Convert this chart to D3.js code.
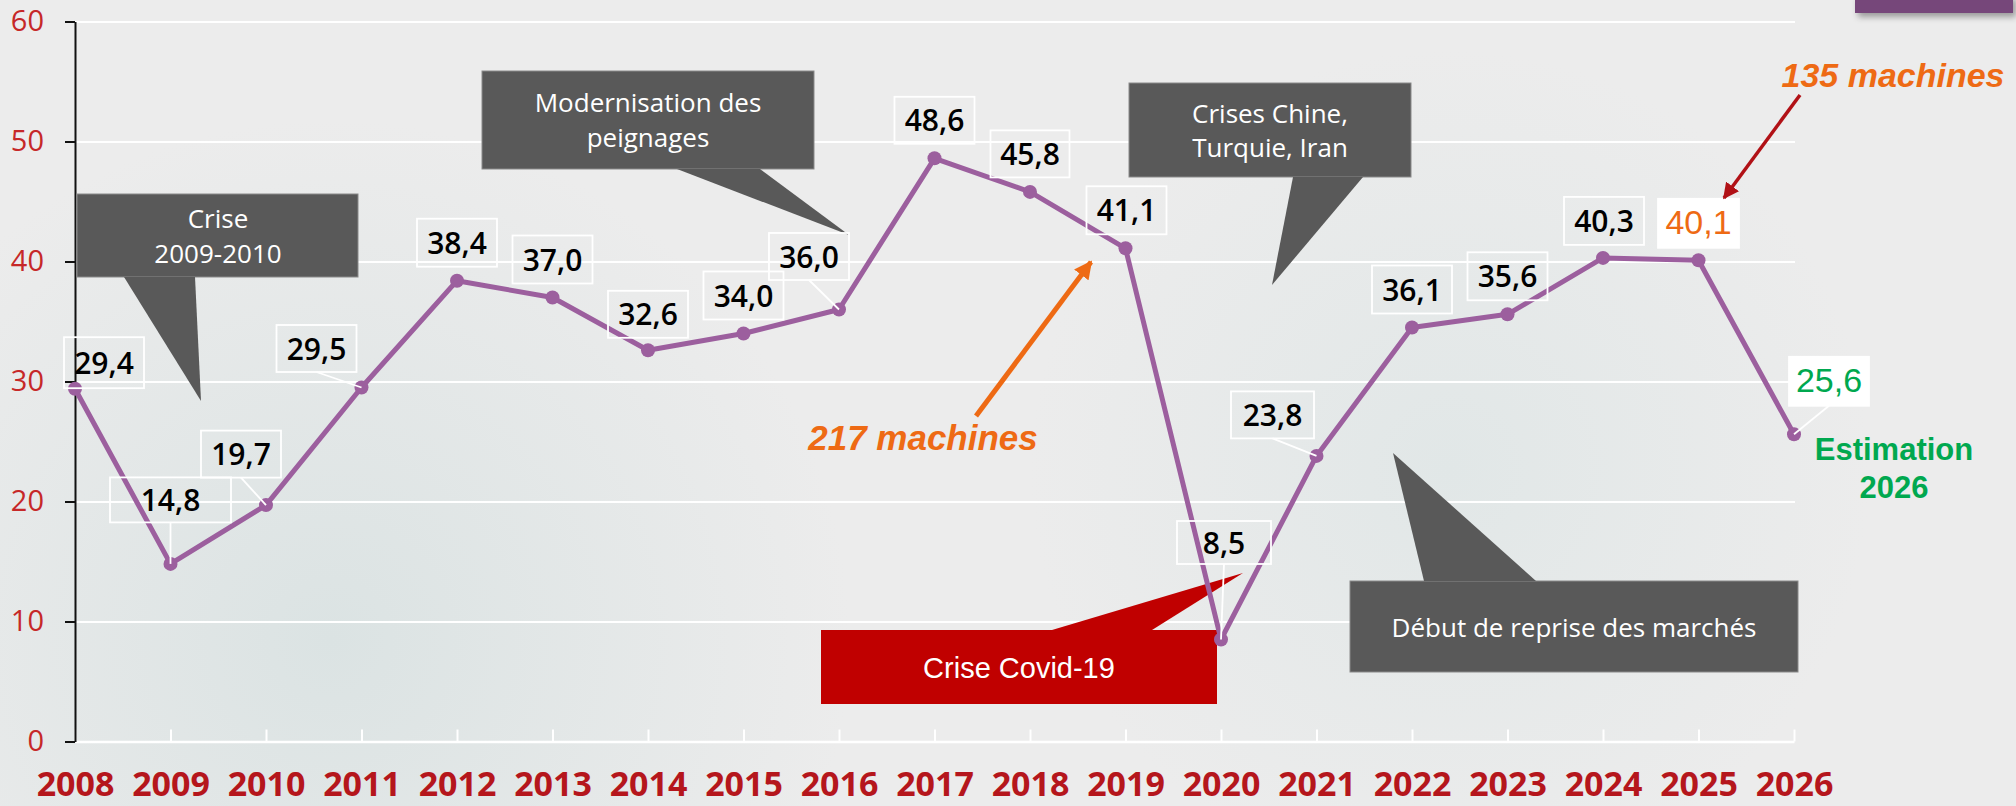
<!DOCTYPE html>
<html><head><meta charset="utf-8">
<script src="https://cdn.jsdelivr.net/npm/d3@7"></script>
<style>html,body{margin:0;padding:0;background:#ececec;overflow:hidden}</style>
</head><body><svg id="c" width="2016" height="806"></svg>
<script>
// ---- data ----
const years  = [2008,2009,2010,2011,2012,2013,2014,2015,2016,2017,2018,2019,2020,2021,2022,2023,2024,2025,2026];
const values = [29.4,14.8,19.7,29.5,38.4,37.0,32.6,34.0,36.0,48.6,45.8,41.1,8.5,23.8,34.5,35.6,40.3,40.1,25.6];
const labels = ["29,4","14,8","19,7","29,5","38,4","37,0","32,6","34,0","36,0","48,6","45,8","41,1","8,5","23,8","36,1","35,6","40,3","40,1","25,6"];
const yTicks = [0,10,20,30,40,50,60];

// ---- label layout (offsets from point, box size, style) ----
const labelLayout = [
  {dx:29,  dy:-26, w:80, h:51},
  {dx:0,   dy:-64, w:121,h:45, leader:true},
  {dx:-25, dy:-51, w:80, h:47, leader:true},
  {dx:-45, dy:-39, w:80, h:47, leader:true},
  {dx:0,   dy:-38, w:80, h:48},
  {dx:0,   dy:-38, w:80, h:48},
  {dx:0,   dy:-36, w:80, h:47},
  {dx:0,   dy:-38, w:80, h:48},
  {dx:-30, dy:-53, w:80, h:47, leader:true},
  {dx:0,   dy:-38, w:80, h:47},
  {dx:0,   dy:-38, w:79, h:47},
  {dx:1,   dy:-38, w:80, h:48},
  {dx:3,   dy:-97, w:94, h:43, leader:true},
  {dx:-44, dy:-41, w:83, h:47, leader:true},
  {dx:0,   dy:-38, w:80, h:48},
  {dx:0,   dy:-38, w:80, h:48},
  {dx:1,   dy:-37, w:80, h:48},
  {dx:0,   dy:-37, w:81, h:49, fill:"#ffffff", color:"#ee6a14", font:"Liberation Sans", weight:400},
  {dx:35,  dy:-53, w:80, h:49, fill:"#ffffff", color:"#00a84f", font:"Liberation Sans", weight:400, leader:true}
];

const callouts = [
  {rect:[77,194,358,277], poly:[[124,277],[201,401],[195,277]], lines:["Crise","2009-2010"], tx:218, ty:[228,263], fill:"#595959"},
  {rect:[482,71,814,169], poly:[[677,169],[849,235],[760,169]], lines:["Modernisation des","peignages"], tx:648, ty:[112,147], fill:"#595959"},
  {rect:[1129,83,1411,177], poly:[[1293,177],[1272,285],[1363,177]], lines:["Crises Chine,","Turquie, Iran"], tx:1270, ty:[123,157], fill:"#595959"},
  {rect:[1350,581,1798,672], poly:[[1424,581],[1393,453],[1536,581]], lines:["Début de reprise des marchés"], tx:1574, ty:[637], fill:"#595959"},
  {rect:[821,630,1217,704], poly:[[1052,630],[1243,573],[1152,630]], lines:["Crise Covid-19"], tx:1019, ty:[678], fill:"#c00000", arial:true}
];

// ---- drawing ----
const svg = d3.select("#c");
const W = 2016, H = 806;
const x = d3.scaleLinear().domain([2008,2026]).range([75,1794]);
const y = d3.scaleLinear().domain([0,60]).range([741.5,21.5]);

const defs = svg.append("defs");
const g1 = defs.append("radialGradient").attr("id","bg1").attr("cx",330).attr("cy",640).attr("r",520).attr("gradientUnits","userSpaceOnUse");
g1.append("stop").attr("offset","0%").attr("stop-color","#dbe3e3").attr("stop-opacity",1);
g1.append("stop").attr("offset","100%").attr("stop-color","#dbe3e3").attr("stop-opacity",0);
const g2 = defs.append("radialGradient").attr("id","bg2").attr("cx",1450).attr("cy",470).attr("r",420).attr("gradientUnits","userSpaceOnUse");
g2.append("stop").attr("offset","0%").attr("stop-color","#e1e7e7").attr("stop-opacity",1);
g2.append("stop").attr("offset","100%").attr("stop-color","#e1e7e7").attr("stop-opacity",0);
const sh = defs.append("filter").attr("id","shadow").attr("x","-20%").attr("y","-50%").attr("width","140%").attr("height","250%");
sh.append("feDropShadow").attr("dx",3).attr("dy",4).attr("stdDeviation",3).attr("flood-color","#000").attr("flood-opacity",0.35);
function marker(id,color,size){
  defs.append("marker").attr("id",id).attr("viewBox","0 0 10 10").attr("refX",9).attr("refY",5)
    .attr("markerWidth",size).attr("markerHeight",size).attr("markerUnits","userSpaceOnUse").attr("orient","auto")
    .append("path").attr("d","M0,0 L10,5 L0,10 z").attr("fill",color);
}
marker("arrO","#ee6a14",18);
marker("arrR","#b11116",16);

svg.append("rect").attr("width",W).attr("height",H).attr("fill","#ececec");
svg.append("rect").attr("width",W).attr("height",H).attr("fill","url(#bg1)");
svg.append("rect").attr("width",W).attr("height",H).attr("fill","url(#bg2)");

// top-right tab
svg.append("rect").attr("x",1855).attr("y",-5).attr("width",158).attr("height",18).attr("fill","#76467a").attr("filter","url(#shadow)");

// gridlines
svg.append("g").attr("transform","translate(75,0)")
  .call(d3.axisLeft(y).tickValues(yTicks.slice(1)).tickSize(-(1795-75)).tickFormat(""))
  .call(g=>g.select(".domain").remove())
  .call(g=>g.selectAll(".tick line").attr("stroke","#ffffff").attr("stroke-width",2));

// x axis (white)
const xAxis = svg.append("g").attr("transform",`translate(0,${y(0)})`)
  .call(d3.axisBottom(x).tickValues(years).tickFormat(d=>String(d)).tickSizeInner(-12).tickSizeOuter(0).tickPadding(30));
xAxis.select(".domain").attr("stroke","#ffffff").attr("stroke-width",2.5);
xAxis.selectAll(".tick line").attr("stroke","#ffffff").attr("stroke-width",2);
xAxis.selectAll(".tick text").attr("fill","#b5161c").attr("font-family","Open Sans").attr("font-weight",700).attr("font-size",34);

// y axis (black)
const yAxis = svg.append("g").attr("transform","translate(75,0)")
  .call(d3.axisLeft(y).tickValues(yTicks).tickSize(10).tickSizeOuter(0).tickPadding(21));
yAxis.select(".domain").attr("stroke","#111").attr("stroke-width",2);
yAxis.selectAll(".tick line").attr("stroke","#111").attr("stroke-width",2);
yAxis.selectAll(".tick text").attr("fill","#c62828").attr("font-family","Open Sans").attr("font-size",29);

// callouts
const cg = svg.append("g");
callouts.forEach(c=>{
  const [x0,y0,x1,y1] = c.rect;
  cg.append("rect").attr("x",x0).attr("y",y0).attr("width",x1-x0).attr("height",y1-y0)
    .attr("fill",c.fill).attr("stroke", c.arial? "none":"#8a8a8a").attr("stroke-width",1);
  cg.append("path").attr("d","M"+c.poly.map(p=>p.join(",")).join("L")+"Z").attr("fill",c.fill);
  c.lines.forEach((t,i)=>{
    cg.append("text").attr("x",c.tx).attr("y",c.ty[i]).attr("text-anchor","middle")
      .attr("fill","#ffffff").attr("font-family",c.arial?"Liberation Sans":"Open Sans")
      .attr("font-size",c.arial?29:26).text(t);
  });
});

// line + points
const pts = years.map((yr,i)=>({yr, v:values[i], lab:labels[i], L:labelLayout[i]}));
svg.append("path").datum(pts)
  .attr("d", d3.line().x(d=>x(d.yr)).y(d=>y(d.v)))
  .attr("fill","none").attr("stroke","#9c5f9e").attr("stroke-width",5).attr("stroke-linejoin","round");
svg.append("g").selectAll("circle").data(pts).join("circle")
  .attr("cx",d=>x(d.yr)).attr("cy",d=>y(d.v)).attr("r",7).attr("fill","#9c5f9e");

// labels
const lg = svg.append("g");
pts.forEach(d=>{
  const px = x(d.yr), py = y(d.v), L = d.L;
  const cx = px + L.dx, cy = py + L.dy;
  const bx = cx - L.w/2, by = cy - L.h/2;
  if (L.leader) {
    lg.append("line").attr("x1",cx).attr("y1",by+L.h).attr("x2",px).attr("y2",py)
      .attr("stroke","#ffffff").attr("stroke-width",1.8);
  }
  lg.append("rect").attr("x",bx).attr("y",by).attr("width",L.w).attr("height",L.h)
    .attr("fill",L.fill||"none").attr("stroke","#ffffff").attr("stroke-width",1.8);
  lg.append("text").attr("x",cx).attr("y",cy+11).attr("text-anchor","middle")
    .attr("fill",L.color||"#000000").attr("font-family",L.font||"Open Sans")
    .attr("font-weight",L.weight||600).attr("font-size",L.font?34:30).text(d.lab);
});

// annotations
svg.append("text").attr("x",1893).attr("y",87).attr("text-anchor","middle")
  .attr("fill","#ee6a14").attr("font-family","Liberation Sans").attr("font-weight",700).attr("font-style","italic")
  .attr("font-size",34).text("135 machines");
svg.append("line").attr("x1",1800).attr("y1",95).attr("x2",1724).attr("y2",198)
  .attr("stroke","#b11116").attr("stroke-width",3.5).attr("marker-end","url(#arrR)");

svg.append("text").attr("x",923).attr("y",450).attr("text-anchor","middle")
  .attr("fill","#ee6a14").attr("font-family","Liberation Sans").attr("font-weight",700).attr("font-style","italic")
  .attr("font-size",35).text("217 machines");
svg.append("line").attr("x1",976).attr("y1",416).attr("x2",1091).attr("y2",262)
  .attr("stroke","#ee6a14").attr("stroke-width",5).attr("marker-end","url(#arrO)");

svg.append("text").attr("x",1894).attr("y",460).attr("text-anchor","middle")
  .attr("fill","#00a84f").attr("font-family","Liberation Sans").attr("font-weight",700).attr("font-size",31).text("Estimation");
svg.append("text").attr("x",1894).attr("y",498).attr("text-anchor","middle")
  .attr("fill","#00a84f").attr("font-family","Liberation Sans").attr("font-weight",700).attr("font-size",31).text("2026");
</script></body></html>
